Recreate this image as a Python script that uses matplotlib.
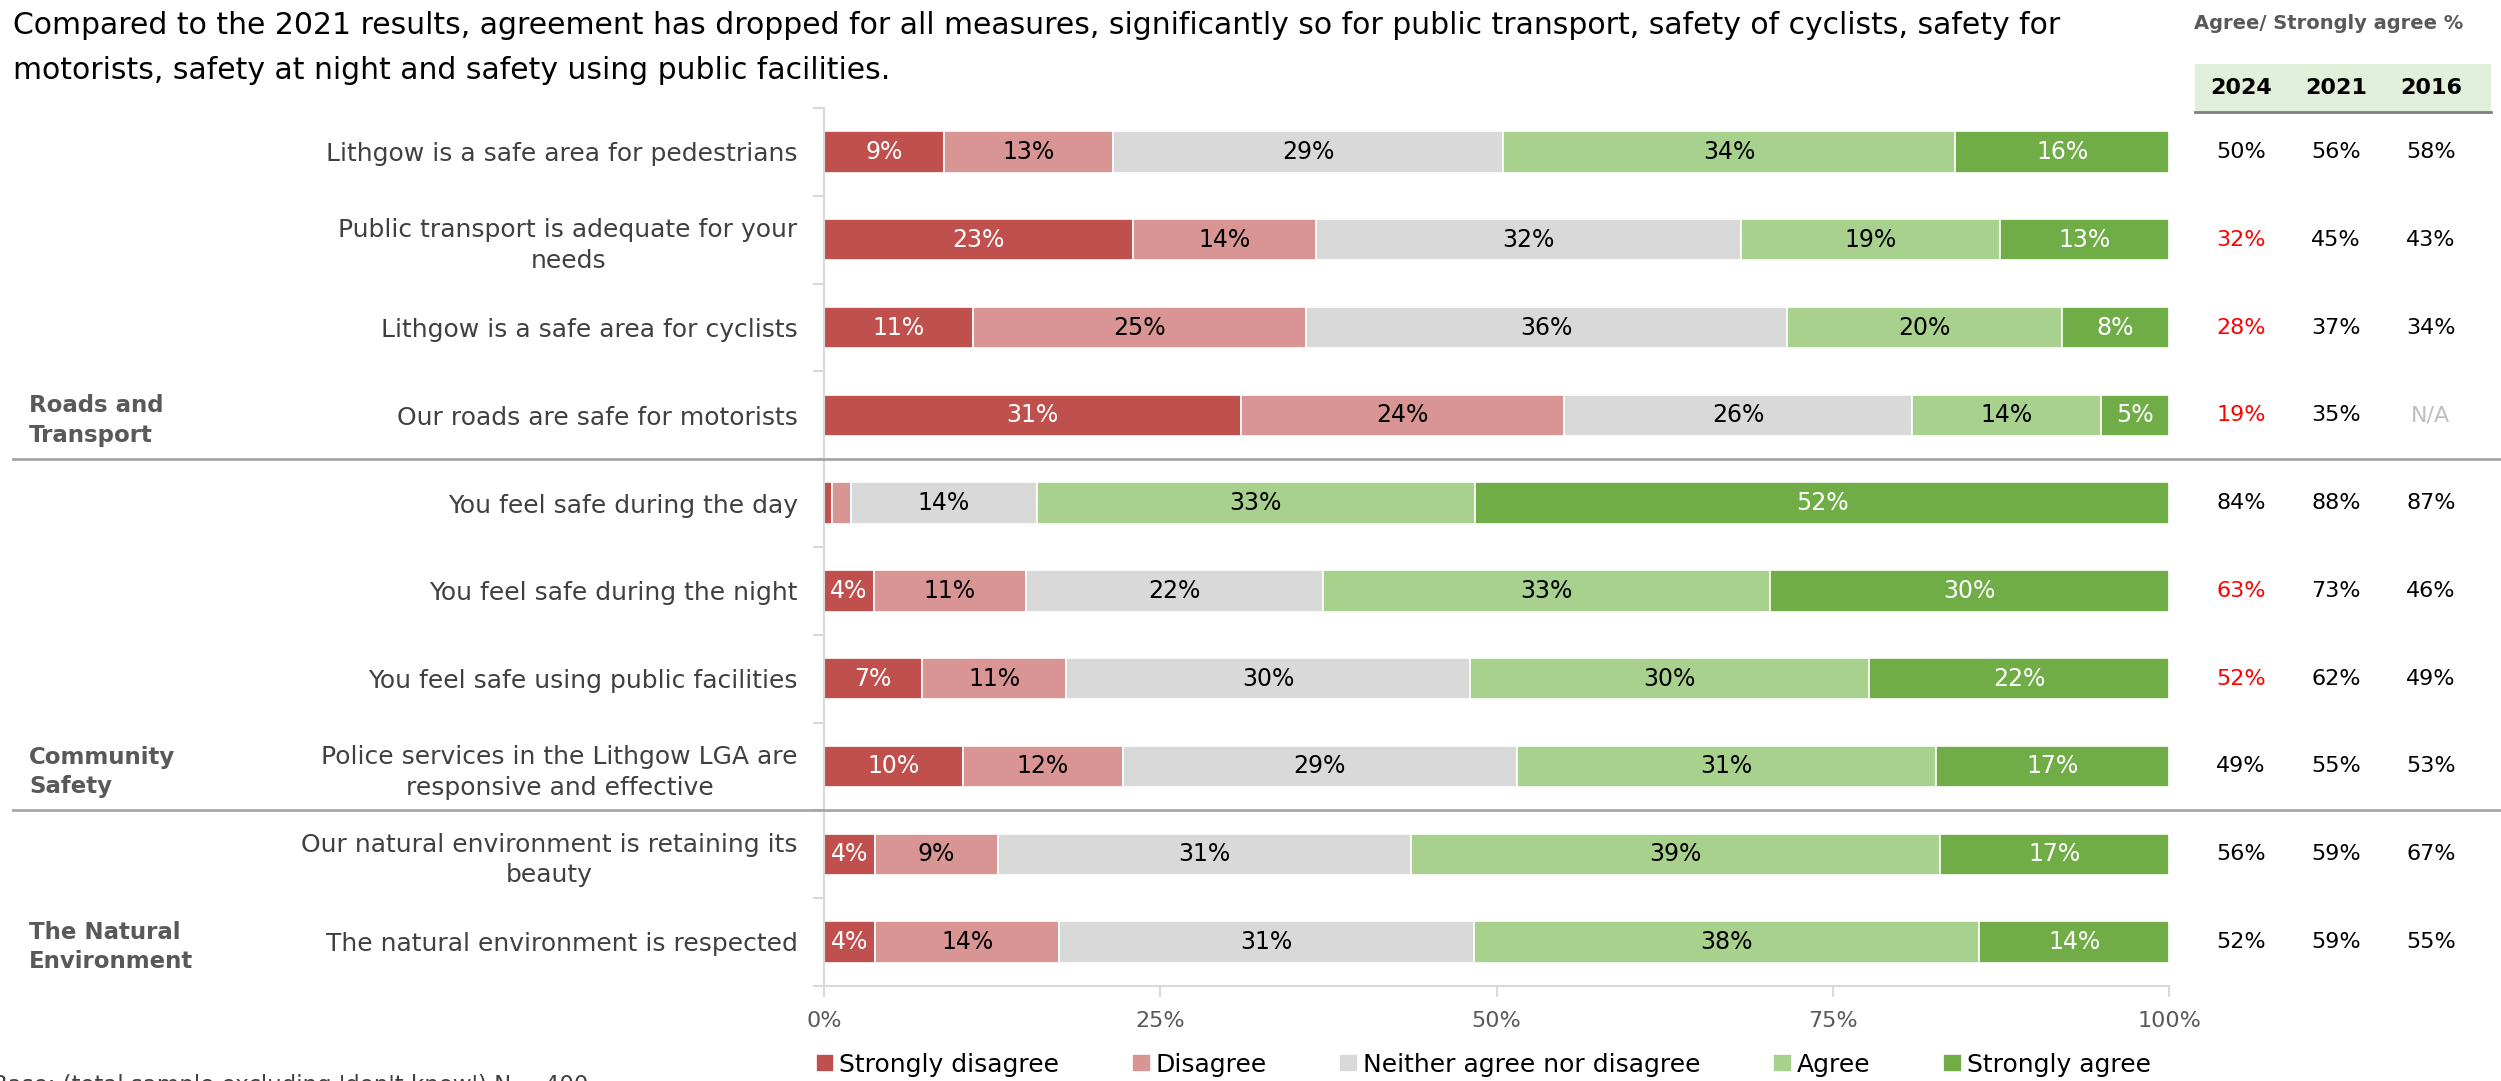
import numpy as np
import matplotlib
matplotlib.use("Agg")
from matplotlib import pyplot as plt
from matplotlib import transforms
from matplotlib.patches import Rectangle
from matplotlib.lines import Line2D

# ---- data ----
statements = [
    "Lithgow is a safe area for pedestrians",
    "Public transport is adequate for your\nneeds",
    "Lithgow is a safe area for cyclists",
    "Our roads are safe for motorists",
    "You feel safe during the day",
    "You feel safe during the night",
    "You feel safe using public facilities",
    "Police services in the Lithgow LGA are\nresponsive and effective",
    "Our natural environment is retaining its\nbeauty",
    "The natural environment is respected",
]
categories = ["Strongly disagree", "Disagree", "Neither agree nor disagree",
              "Agree", "Strongly agree"]
strongly_disagree = [8.9, 23.0, 11.1, 31.0, 0.6, 3.7, 7.3, 10.3, 3.8, 3.8]
disagree          = [12.6, 13.6, 24.7, 24.0, 1.4, 11.3, 10.7, 11.9, 9.1, 13.7]
neither           = [29.0, 31.6, 35.8, 25.9, 13.8, 22.1, 30.0, 29.3, 30.7, 30.8]
agree             = [33.6, 19.2, 20.4, 14.0, 32.6, 33.2, 29.7, 31.2, 39.4, 37.6]
strongly_agree    = [15.9, 12.6, 8.0, 5.1, 51.6, 29.7, 22.3, 17.3, 17.0, 14.1]

years = ["2024", "2021", "2016"]
agree_2024 = ["50%", "32%", "28%", "19%", "84%", "63%", "52%", "49%", "56%", "52%"]
agree_2021 = ["56%", "45%", "37%", "35%", "88%", "73%", "62%", "55%", "59%", "59%"]
agree_2016 = ["58%", "43%", "34%", "N/A", "87%", "46%", "49%", "53%", "67%", "55%"]
sig_drop_2024 = [False, True, True, True, False, True, True, False, False, False]

groups = ["Roads and\nTransport", "Community\nSafety", "The Natural\nEnvironment"]
group_rows = [3, 7, 9]
group_breaks = [3.5, 7.5]

colors = ["#C0504D", "#D99594", "#D9D9D9", "#A9D18E", "#70AD47"]
text_colors = ["white", "black", "black", "black", "white"]

title = ("Compared to the 2021 results, agreement has dropped for all measures, significantly so for "
         "public transport, safety of cyclists, safety for\nmotorists, safety at night and safety "
         "using public facilities.")

plt.rcParams['font.family'] = ['DejaVu Sans']

fig = plt.figure(figsize=(25.01, 10.81), dpi=100)
ax = fig.add_axes([0.3295, 0.088, 0.5378, 0.812])

y = np.arange(len(statements))
series = [strongly_disagree, disagree, neither, agree, strongly_agree]
left = np.zeros(len(statements))
for vals, col, tcol, lab in zip(series, colors, text_colors, categories):
    vals = np.array(vals)
    bars = ax.barh(y, vals, left=left, height=0.47, color=col, edgecolor="white",
                   linewidth=1.2, label=lab)
    for b, v in zip(bars, vals):
        if v >= 3:
            ax.text(b.get_x() + b.get_width() / 2, b.get_y() + b.get_height() / 2,
                    "%d%%" % round(v), ha="center", va="center", color=tcol, fontsize=17)
    left += vals

ax.set_xlim(0, 100)
ax.set_ylim(len(statements) - 0.5, -0.5)
ax.set_yticks(y)
ax.set_yticklabels(statements, fontsize=18, color="#404040", multialignment="center",
                   linespacing=1.35)
ax.set_yticks(np.arange(len(statements) + 1) - 0.5, minor=True)
ax.tick_params(axis="y", which="major", length=0, pad=19)
ax.tick_params(axis="y", which="minor", length=8, color="#D9D9D9", width=1.5)
ax.set_xticks([0, 25, 50, 75, 100])
ax.set_xticklabels(["0%", "25%", "50%", "75%", "100%"], fontsize=16, color="#595959")
ax.tick_params(axis="x", length=8, color="#D9D9D9", width=1.5, pad=10)
for s in ["top", "right"]:
    ax.spines[s].set_visible(False)
ax.spines["left"].set_color("#D9D9D9")
ax.spines["left"].set_linewidth(1.5)
ax.spines["bottom"].set_color("#D9D9D9")
ax.spines["bottom"].set_linewidth(1.5)

ax.legend(loc="center", bbox_to_anchor=(0.49, -0.09), ncol=5, frameon=False,
          fontsize=18, handlelength=0.75, handleheight=0.75, handletextpad=0.2,
          columnspacing=2.9)

# group separators and labels
tr = transforms.blended_transform_factory(fig.transFigure, ax.transData)
for yb in group_breaks:
    fig.add_artist(Line2D([0.005, 1.0], [yb, yb], transform=tr, color="#A6A6A6", lw=2))
for g, r in zip(groups, group_rows):
    fig.text(0.0116, r + 0.06, g, transform=tr, ha="left", va="center", fontsize=16.5,
             fontweight="bold", color="#595959", linespacing=1.35)

# summary table
col_x = [0.896, 0.934, 0.972]
fig.add_artist(Rectangle((0.8777, 0.896), 0.1183, 0.045, transform=fig.transFigure,
                         facecolor="#E2EFDA", edgecolor="none"))
fig.add_artist(Line2D([0.8777, 0.996], [0.896, 0.896], transform=fig.transFigure,
                      color="#808080", lw=2))
fig.text(0.931, 0.978, "Agree/ Strongly agree %", ha="center", va="center",
         fontsize=14, fontweight="bold", color="#595959")
for cx, yr in zip(col_x, years):
    fig.text(cx, 0.919, yr, ha="center", va="center", fontsize=16, fontweight="bold",
             color="black")
for i in range(len(statements)):
    c24 = "#FF0000" if sig_drop_2024[i] else "black"
    fig.text(col_x[0], i, agree_2024[i], transform=tr, ha="center", va="center",
             fontsize=16, color=c24)
    fig.text(col_x[1], i, agree_2021[i], transform=tr, ha="center", va="center",
             fontsize=16, color="black")
    c16 = "#BFBFBF" if agree_2016[i] == "N/A" else "black"
    fig.text(col_x[2], i, agree_2016[i], transform=tr, ha="center", va="center",
             fontsize=16, color=c16)

fig.text(0.005, 0.99, title, ha="left", va="top", fontsize=21.5, color="black",
         linespacing=1.7)
fig.text(-0.003, 0.0065, "Base: (total sample excluding 'don't know') N = 400",
         ha="left", va="top", fontsize=16.5, color="#404040")

fig.savefig("out.png", dpi=100)
